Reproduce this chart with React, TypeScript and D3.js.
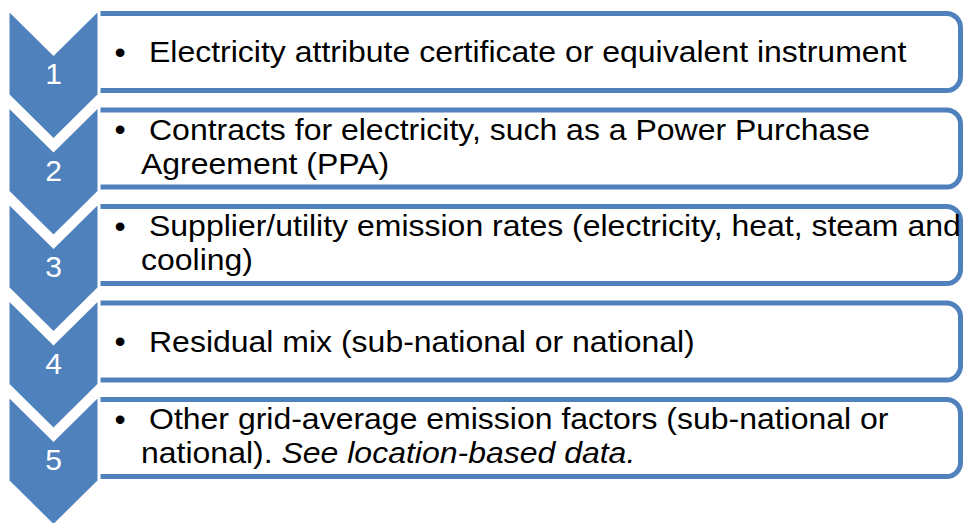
import { useRef, useEffect } from "react";
import * as d3 from "d3";

// Step numbers shown in the chevrons
const steps = ["1", "2", "3", "4", "5"];

// Bullet text per step: first line, continuation line, italic tail of continuation
const firstLines = [
  "Electricity attribute certificate or equivalent instrument",
  "Contracts for electricity, such as a Power Purchase",
  "Supplier/utility emission rates (electricity, heat, steam and",
  "Residual mix (sub-national or national)",
  "Other grid-average emission factors (sub-national or",
];
const secondLines = ["", "Agreement (PPA)", "cooling)", "", "national). "];
const secondItalic = ["", "", "", "", "See location-based data."];

const BLUE = "#4F81BD";
const FONT = "'Liberation Sans', Arial, sans-serif";

export default function App() {
  const svgRef = useRef<SVGSVGElement>(null);

  useEffect(() => {
    if (!svgRef.current) return;
    const width = 964;
    const height = 523;
    const svg = d3.select(svgRef.current);
    svg.selectAll("*").remove();
    svg.attr("width", width).attr("height", height);

    // one band per step
    const y = d3.scaleBand().domain(steps).range([9, 9 + 96.5 * steps.length]).padding(0);

    const chevL = 8;
    const chevR = 99;
    const chevMid = (chevL + chevR) / 2;
    const chevH = 86;
    const chevDepth = 45;

    const boxL = 97;
    const boxR = 960.5;
    const rad = 14;

    // text boxes (rounded on the right side only)
    svg.selectAll("path.box")
      .data(steps)
      .join("path")
      .attr("class", "box")
      .attr("d", (d) => {
        const t = (y(d) || 0) + 4.5;
        const b = (y(d) || 0) + 81.5;
        const p = d3.path();
        p.moveTo(boxL, t);
        p.lineTo(boxR - rad, t);
        p.arcTo(boxR, t, boxR, t + rad, rad);
        p.lineTo(boxR, b - rad);
        p.arcTo(boxR, b, boxR - rad, b, rad);
        p.lineTo(boxL, b);
        p.closePath();
        return p.toString();
      })
      .attr("fill", "#fff")
      .attr("stroke", BLUE)
      .attr("stroke-width", 5);

    // chevrons
    svg.selectAll("path.chev")
      .data(steps)
      .join("path")
      .attr("class", "chev")
      .attr("d", (d) => {
        const t = y(d) || 0;
        const line = d3.line();
        return line([
          [chevL, t],
          [chevMid, t + chevDepth],
          [chevR, t],
          [chevR, t + chevH],
          [chevMid, t + chevH + chevDepth],
          [chevL, t + chevH],
        ]) + "Z";
      })
      .attr("fill", BLUE)
      .attr("stroke", "#fff")
      .attr("stroke-width", 3)
      .attr("stroke-linejoin", "miter");

    // step numbers
    svg.selectAll("text.num")
      .data(steps)
      .join("text")
      .attr("class", "num")
      .attr("x", chevMid)
      .attr("y", (d) => (y(d) || 0) + 75)
      .attr("text-anchor", "middle")
      .attr("fill", "#fff")
      .attr("font-size", "30px")
      .attr("font-family", FONT)
      .text((d) => d);

    // bullet text; the source font runs a bit wide, so stretch horizontally
    const sx = 32 / 30;
    const textX = 149;
    const contX = 141;
    steps.forEach((s, i) => {
      const center = (y(s) || 0) + 43;
      const twoLines = secondLines[i] !== "";
      const base1 = twoLines ? center - 8.5 : center + 10.5;
      const base2 = base1 + 34;

      svg.append("text")
        .attr("x", 120)
        .attr("y", base1)
        .attr("text-anchor", "middle")
        .attr("font-family", FONT)
        .attr("font-size", "32px")
        .text("•");

      const g = svg.append("g")
        .attr("transform", `translate(${textX},0) scale(${sx},1)`)
        .attr("font-family", FONT)
        .attr("font-size", "30px")
        .attr("fill", "#000");

      g.append("text")
        .attr("x", 0)
        .attr("y", base1)
        .text(firstLines[i]);

      if (twoLines) {
        const t2 = g.append("text")
          .attr("x", (contX - textX) / sx)
          .attr("y", base2)
          .attr("xml:space", "preserve")
          .style("white-space", "pre");
        t2.append("tspan").text(secondLines[i]);
        if (secondItalic[i]) {
          t2.append("tspan").attr("font-style", "italic").text(secondItalic[i]);
        }
      }
    });
  }, []);

  return (
    <div style={{ position: "absolute", left: 0, top: 0, background: "#fff" }}>
      <svg ref={svgRef} style={{ display: "block" }} />
    </div>
  );
}
